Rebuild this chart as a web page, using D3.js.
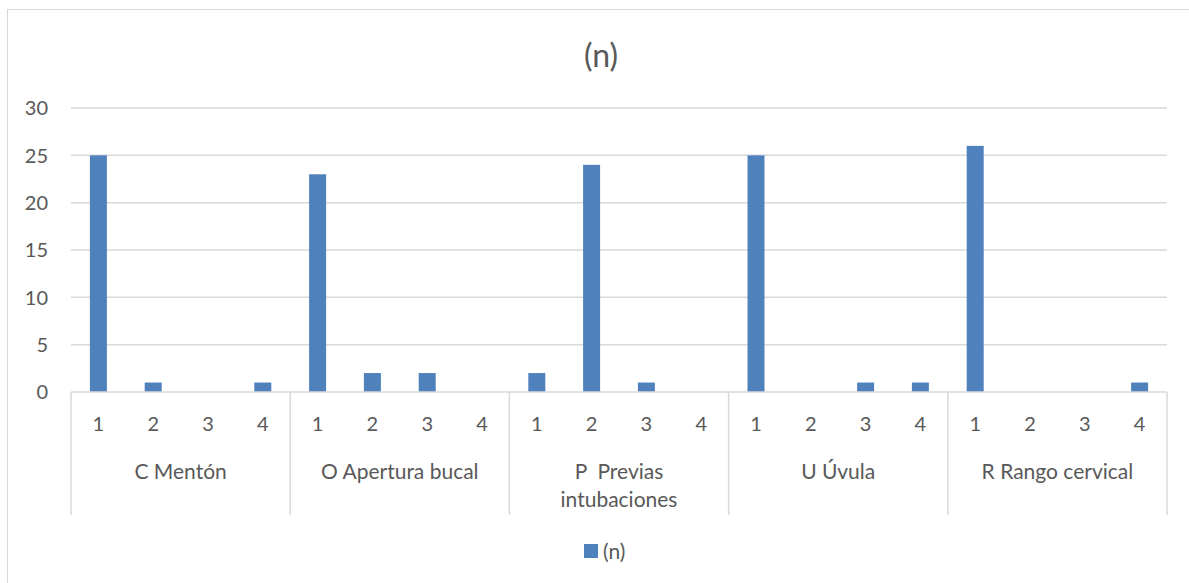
<!DOCTYPE html>
<html><head><meta charset="utf-8">
<script src="https://cdn.jsdelivr.net/npm/d3@7"></script>
<style>body{margin:0;background:#fff}text{font-family:Lato,"Open Sans",sans-serif;fill:#595959}</style>
</head><body><svg id="c" width="1189" height="583"></svg>
<script>
const groups = ["C Mentón","O Apertura bucal","P  Previas|intubaciones","U Úvula","R Rango cervical"];
const cats = ["1","2","3","4"];
const valC = [25,1,0,1];
const valO = [23,2,2,0];
const valP = [2,24,1,0];
const valU = [25,0,1,1];
const valR = [26,0,0,1];
const yTicks = [0,5,10,15,20,25,30];
const seriesName = "(n)";
const title = "(n)";

const allVals = [valC,valO,valP,valU,valR];
const data = [];
groups.forEach((g,gi)=>cats.forEach((c,ci)=>data.push({g:gi,c:ci,key:gi+"-"+ci,label:c,v:allVals[gi][ci]})));

const svg = d3.select("#c");
const L=71,R=1167,T=108,B=392;
svg.append("rect").attr("x",7.5).attr("y",9.5).attr("width",1183).attr("height",580).attr("fill","none").attr("stroke","#d9d9d9");

const x = d3.scaleBand().domain(data.map(d=>d.key)).range([L,R]).paddingInner(0.69).paddingOuter(0.345);
const gx = d3.scaleBand().domain(groups.map((g,i)=>i)).range([L,R]);
const y = d3.scaleLinear().domain([0,30]).range([B,T]);

// grid
svg.append("g").selectAll("line").data(yTicks.filter(t=>t>0)).join("line")
 .attr("x1",L).attr("x2",R).attr("y1",d=>y(d)).attr("y2",d=>y(d)).attr("stroke","#d9d9d9").attr("stroke-width",1.5);
// y labels
svg.append("g").selectAll("text").data(yTicks).join("text")
 .attr("x",48).attr("y",d=>y(d)).attr("dy","0.36em").attr("text-anchor","end").attr("font-size",20).text(d=>d);

// bars
svg.append("g").selectAll("rect").data(data).join("rect")
 .attr("x",d=>x(d.key)).attr("width",x.bandwidth()).attr("y",d=>y(d.v)).attr("height",d=>B-y(d.v)).attr("fill","#4f81bd");

// axis line
svg.append("line").attr("x1",L).attr("x2",R).attr("y1",B).attr("y2",B).attr("stroke","#d9d9d9").attr("stroke-width",1.5);
// separators
const seps = groups.map((g,i)=>gx(i)).concat([R]);
svg.append("g").selectAll("line").data(seps).join("line")
 .attr("x1",d=>d).attr("x2",d=>d).attr("y1",B).attr("y2",515).attr("stroke","#d9d9d9").attr("stroke-width",1.5);
// category labels
svg.append("g").selectAll("text").data(data).join("text")
 .attr("x",d=>x(d.key)+x.bandwidth()/2).attr("y",424).attr("dy","0.36em").attr("text-anchor","middle").attr("font-size",20).text(d=>d.label);
// group labels
const gl = svg.append("g").selectAll("text").data(groups).join("text")
 .attr("x",(d,i)=>gx(i)+gx.bandwidth()/2).attr("y",471).attr("text-anchor","middle").attr("font-size",21);
gl.each(function(d){const parts=d.split("|");const t=d3.select(this);
 parts.forEach((p,k)=>t.append("tspan").attr("x",t.attr("x")).attr("dy",k===0?"0.36em":"28px").attr("xml:space","preserve").text(p));});

// title
svg.append("text").attr("x",601).attr("y",55).attr("dy","0.36em").attr("text-anchor","middle").attr("font-size",32).text(title);
// legend
svg.append("rect").attr("x",584).attr("y",544).attr("width",14).attr("height",14).attr("fill","#4f81bd");
svg.append("text").attr("x",603).attr("y",551).attr("dy","0.36em").attr("font-size",21).text(seriesName);
</script></body></html>
